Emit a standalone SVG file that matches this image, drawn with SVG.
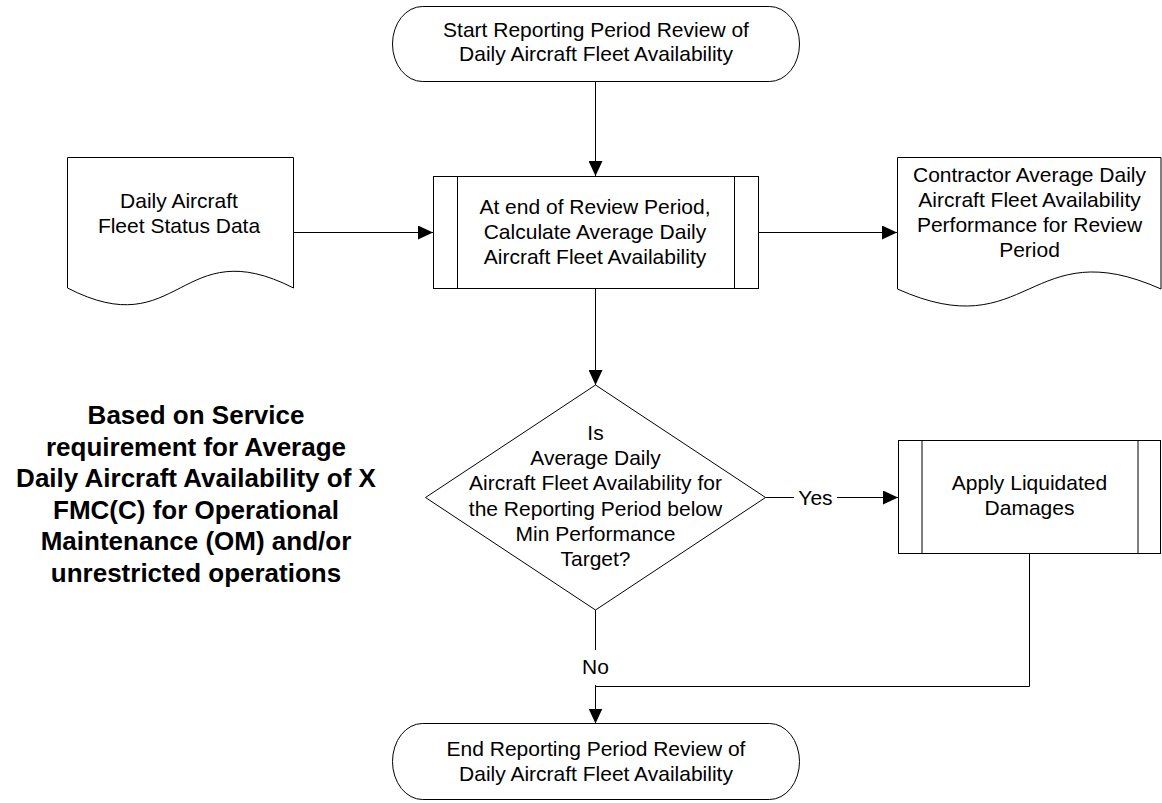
<svg xmlns="http://www.w3.org/2000/svg" width="1162" height="803" viewBox="0 0 1162 803">
  <style>
    .shape { fill: #ffffff; stroke: #000000; stroke-width: 1; }
    .line { fill: none; stroke: #000000; stroke-width: 1; }
    .conn { fill: none; stroke: #000000; stroke-width: 1; marker-end: url(#arrow); }
    .label { font-family: "Liberation Sans", Arial, sans-serif; font-size: 21px; fill: #000000; text-anchor: middle; }
    .note { font-family: "Liberation Sans", Arial, sans-serif; font-size: 26px; font-weight: bold; fill: #000000; text-anchor: middle; }
  </style>
  <defs>
    <marker id="arrow" viewBox="0 0 15 14" refX="15" refY="7" markerWidth="15" markerHeight="14" markerUnits="userSpaceOnUse" orient="auto">
      <path d="M0,0 L15,7 L0,14 z" fill="#000000"/>
    </marker>
  </defs>
  <rect width="1162" height="803" fill="#ffffff"/>

  <!-- connectors -->
  <g id="connectors">
    <path class="conn" d="M595.5,81 V176"/>
    <path class="conn" d="M293,232.5 H433"/>
    <path class="conn" d="M758,232.5 H897"/>
    <path class="conn" d="M595.5,289 V385"/>
    <path class="conn" d="M765.5,497.5 H898"/>
    <path class="conn" d="M595.5,610 V723.5"/>
    <path class="line" d="M1029.5,554 V686.5 H595.5"/>
    <g id="label-yes">
      <rect x="794" y="484" width="43" height="26" fill="#ffffff"/>
      <text class="label" x="815.5" y="505">Yes</text>
    </g>
    <g id="label-no">
      <rect x="580" y="650" width="31" height="35" fill="#ffffff"/>
      <text class="label" x="595.5" y="674">No</text>
    </g>
  </g>

  <!-- start terminator -->
  <g id="start">
    <rect class="shape" x="392.5" y="6.5" width="407" height="75" rx="30" ry="37.5"/>
    <text class="label" x="596" y="37">Start Reporting Period Review of</text>
    <text class="label" x="596" y="61">Daily Aircraft Fleet Availability</text>
  </g>

  <!-- input document -->
  <g id="fleet-status-data">
    <path class="shape" d="M67.5,157.5 H293.5 V288 C180,230 180,346 67.5,288 Z"/>
    <text class="label" x="179" y="208">Daily Aircraft</text>
    <text class="label" x="179" y="232.5">Fleet Status Data</text>
  </g>

  <!-- calculation process -->
  <g id="calculate">
    <rect class="shape" x="433.5" y="176.5" width="325" height="112"/>
    <path class="line" d="M457.5,176.5 V288.5 M734.5,176.5 V288.5"/>
    <text class="label" x="595" y="214">At end of Review Period,</text>
    <text class="label" x="595" y="239">Calculate Average Daily</text>
    <text class="label" x="595" y="264">Aircraft Fleet Availability</text>
  </g>

  <!-- output document -->
  <g id="performance-report">
    <path class="shape" d="M897.5,157.5 H1161 V289 C1029,230 1029,348 897.5,289 Z"/>
    <text class="label" x="1029.5" y="182">Contractor Average Daily</text>
    <text class="label" x="1029.5" y="207">Aircraft Fleet Availability</text>
    <text class="label" x="1029.5" y="232">Performance for Review</text>
    <text class="label" x="1029.5" y="257">Period</text>
  </g>

  <!-- decision -->
  <g id="decision">
    <polygon class="shape" points="595.5,385 765.5,497.5 595.5,610 425.5,497.5"/>
    <text class="label" x="595.5" y="440">Is</text>
    <text class="label" x="595.5" y="465.2">Average Daily</text>
    <text class="label" x="595.5" y="490.4">Aircraft Fleet Availability for</text>
    <text class="label" x="595.5" y="515.6">the Reporting Period below</text>
    <text class="label" x="595.5" y="540.8">Min Performance</text>
    <text class="label" x="595.5" y="566">Target?</text>
  </g>

  <!-- liquidated damages process -->
  <g id="apply-damages">
    <rect class="shape" x="898.5" y="440.5" width="262" height="113"/>
    <path class="line" d="M922,440.5 V553.5 M1138,440.5 V553.5"/>
    <text class="label" x="1029.5" y="490">Apply Liquidated</text>
    <text class="label" x="1029.5" y="515">Damages</text>
  </g>

  <!-- end terminator -->
  <g id="end">
    <rect class="shape" x="392.5" y="723.5" width="407" height="76" rx="30" ry="38"/>
    <text class="label" x="596" y="756">End Reporting Period Review of</text>
    <text class="label" x="596" y="781">Daily Aircraft Fleet Availability</text>
  </g>

  <!-- service requirement note -->
  <g id="requirement-note">
    <text class="note" x="196" y="424">Based on Service</text>
    <text class="note" x="196" y="455.5">requirement for Average</text>
    <text class="note" x="196" y="487">Daily Aircraft Availability of X</text>
    <text class="note" x="196" y="518.5">FMC(C) for Operational</text>
    <text class="note" x="196" y="550">Maintenance (OM) and/or</text>
    <text class="note" x="196" y="581.5">unrestricted operations</text>
  </g>
</svg>
